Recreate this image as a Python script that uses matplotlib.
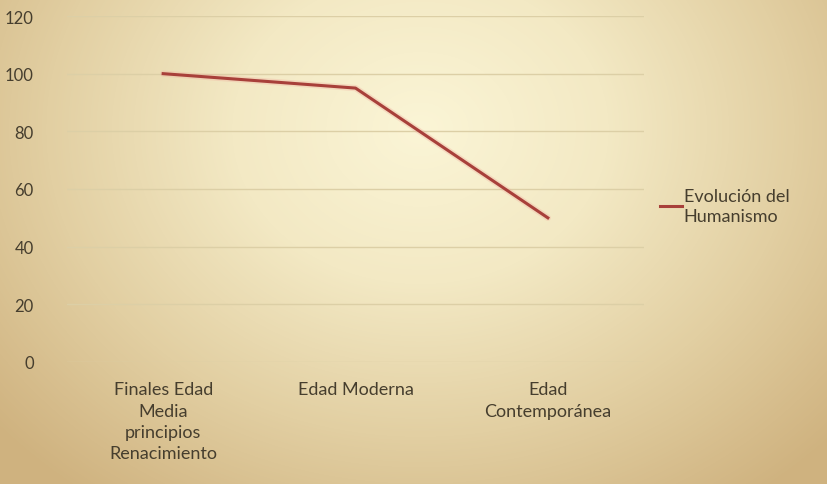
import numpy as np
import matplotlib
matplotlib.use("Agg")
import matplotlib.pyplot as plt
from matplotlib.colors import LinearSegmentedColormap

# datos
categorias = ["Finales Edad\nMedia\nprincipios\nRenacimiento", "Edad Moderna", "Edad\nContemporánea"]
valores = [100, 95, 50]
serie = "Evolución del\nHumanismo"
yticks = [0, 20, 40, 60, 80, 100, 120]

plt.rcParams["font.family"] = ["Lato", "DejaVu Sans"]
txt = "#463e2e"

fig = plt.figure(figsize=(8.28, 4.85), dpi=100)

# fondo con degradado radial
bg = fig.add_axes([0, 0, 1, 1], zorder=0)
yy, xx = np.mgrid[0:485, 0:828]
r = np.sqrt(((xx - 420) / 560.0) ** 2 + ((yy - 130) / 460.0) ** 2)
cmap = LinearSegmentedColormap.from_list("fondo", ["#fbf5d6", "#f3e9c4", "#e2cfa2", "#cfb27f"])
bg.imshow(np.clip(r, 0, 1), cmap=cmap, aspect="auto", vmin=0, vmax=1)
bg.axis("off")

ax = fig.add_axes([67 / 828, 1 - 363 / 485, (644 - 67) / 828, (363 - 17) / 485], zorder=1)
ax.patch.set_alpha(0)
x = np.arange(len(categorias))
ax.plot(x, valores, color="#f0b0a0", lw=4.5, alpha=0.35, solid_capstyle="round")
ax.plot(x, valores, color="#a8403a", lw=2.2, label=serie)
ax.set_xlim(-0.5, len(categorias) - 0.5)
ax.set_ylim(0, 120)
ax.set_yticks(yticks)
ax.set_xticks(x)
ax.set_xticklabels(categorias, fontsize=13, color=txt, linespacing=1.4, va="top")
ax.tick_params(axis="y", labelsize=12, colors=txt, length=0, pad=24)
ax.tick_params(axis="x", length=0, pad=14)
ax.grid(axis="y", color="#dccfa6", lw=1)
for s in ax.spines.values():
    s.set_visible(False)
ax.set_axisbelow(True)

leg = ax.legend(loc="center left", bbox_to_anchor=(1.0, 0.45), frameon=False, fontsize=13,
                handlelength=1.2, handletextpad=0.1, labelcolor=txt)
for t in leg.get_texts():
    t.set_linespacing(1.3)

fig.savefig("out.png", dpi=100)
